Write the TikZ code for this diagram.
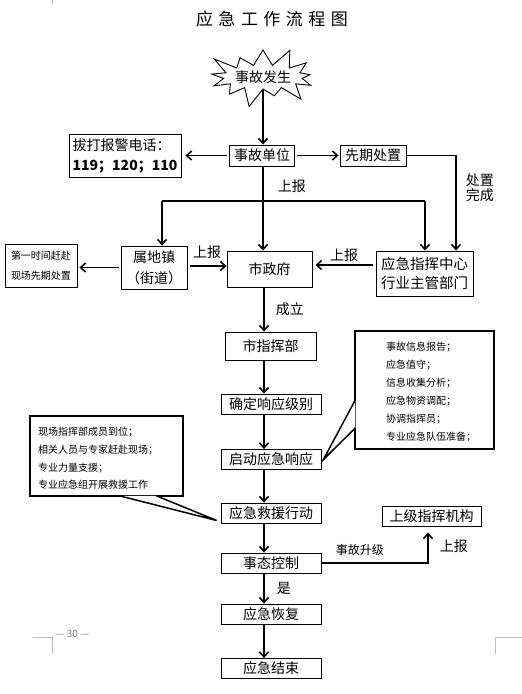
\documentclass[tikz,border=0pt]{standalone}
\usepackage{fontspec}
\setmainfont{Noto Sans CJK SC}
\usepackage{tikz}
\usetikzlibrary{arrows.meta,shapes}

\begin{document}
\begin{tikzpicture}[x=1pt,y=-1pt,
  box/.style={draw,line width=0.9pt,inner sep=0pt,font=\fontsize{14}{16}\selectfont},
  flow/.style={line width=1.6pt,-{Straight Barb[length=5pt,width=9pt]}},
  link/.style={line width=1.6pt},
  lbl/.style={inner sep=1pt,font=\fontsize{14}{15}\selectfont},
  callbox/.style={draw,line width=1.5pt,fill=white,inner sep=0pt},
  callptr/.style={draw,line width=1.5pt,fill=white,line join=miter},
  ctext/.style={inner sep=0pt,align=left},
  pagemk/.style={gray!50,line width=0.6pt}]
\useasboundingbox (0,0) rectangle (522,694);

\node[inner sep=0pt,font=\fontsize{17}{20}\selectfont] (title) at (272,19)
  {应\hspace{5.5pt}急\hspace{5.5pt}工\hspace{5.5pt}作\hspace{5.5pt}流\hspace{5.5pt}程\hspace{5.5pt}图};

\node[starburst,draw,line width=0.9pt,starburst points=13,starburst point height=21pt,
  inner sep=0pt,minimum width=106pt,minimum height=66pt,
  font=\fontsize{14}{16}\selectfont] (fs) at (263,77) {事故发生};

\node[box,minimum width=65pt,minimum height=21pt] (sgdw) at (262,155.5) {事故单位};
\node[box,minimum width=112pt,minimum height=43pt,align=left,font=\fontsize{14}{20}\selectfont] (bj) at (125,155.5)
  {拔打报警电话：\\{\bfseries 119；120；110}};
\node[box,minimum width=66pt,minimum height=21pt] (xq) at (373,155.5) {先期处置};
\node[box,minimum width=66pt,minimum height=43pt,align=center,font=\fontsize{14}{21}\selectfont] (sdz) at (154,267.5)
  {属地镇\\（街道）};
\node[box,minimum width=72pt,minimum height=43pt,align=left,font=\fontsize{10}{20}\selectfont] (dy) at (41,265.5)
  {第一时间赶赴\\现场先期处置};
\node[box,minimum width=85pt,minimum height=36pt] (szf) at (269.5,269) {市政府};
\node[box,minimum width=97pt,minimum height=45pt,align=center,font=\fontsize{14.5}{19}\selectfont] (zx) at (424.5,273.5)
  {应急指挥中心\\行业主管部门};
\node[box,minimum width=91pt,minimum height=28pt] (szh) at (270.5,346) {市指挥部};
\node[box,minimum width=100pt,minimum height=20pt] (qd) at (271,404) {确定响应级别};
\node[box,minimum width=100pt,minimum height=20pt] (qdxy) at (271,459.5) {启动应急响应};
\node[box,minimum width=100pt,minimum height=20pt] (jy) at (271,513) {应急救援行动};
\node[box,minimum width=100pt,minimum height=20pt] (tk) at (271,563) {事态控制};
\node[box,minimum width=100pt,minimum height=20pt] (hf) at (271,614) {应急恢复};
\node[box,minimum width=100pt,minimum height=20pt] (js) at (271,668.5) {应急结束};
\node[box,minimum width=99pt,minimum height=20pt] (sj) at (431.5,516) {上级指挥机构};

\node[callbox,minimum width=139pt,minimum height=118pt] (rc) at (424.5,390) {};
\node[ctext,anchor=west,font=\fontsize{10}{18}\selectfont] (rct) at (386,392)
  {事故信息报告；\\应急值守；\\信息收集分析；\\应急物资调配；\\协调指挥员；\\专业应急队伍准备；};
\node[callbox,minimum width=153pt,minimum height=80pt] (lc) at (106.5,456) {};
\node[ctext,anchor=west,font=\fontsize{10}{17.7}\selectfont] (lct) at (38,458.5)
  {现场指挥部成员到位；\\相关人员与专家赶赴现场；\\专业力量支援；\\专业应急组开展救援工作};
\path[callptr] ([xshift=1pt,yshift=-10pt]rc.west) -- ([xshift=2pt]qdxy.east) -- ([xshift=1pt,yshift=-38pt]rc.west);
\path[callptr] ([xshift=90pt,yshift=1pt]lc.south west) -- ([xshift=-4pt,yshift=3pt]jy.south west) -- ([xshift=127pt,yshift=1pt]lc.south west);

\coordinate (ax) at (264,0);
\coordinate (bl) at (162,201);
\coordinate (br) at (425,201);

\draw[flow] (fs.south) -- (fs.south |- sgdw.north);
\draw[flow,shorten <=2pt,shorten >=4pt] (sgdw.west) -- (bj.east);
\draw[flow,shorten <=2pt,shorten >=1pt] (sgdw.east) -- (xq.west);
\draw[flow] (xq.east) -| ([xshift=31.5pt]zx.north)
  node[lbl,pos=0.67,right=8pt,align=left] {处置\\完成};
\draw[flow] (sgdw.south -| fs.south) -- (fs.south |- szf.north) node[lbl,pos=0.23,right=13pt] {上报};
\draw[link] (bl) -- (br);
\draw[flow] (bl) -- (bl |- sdz.north);
\draw[flow] (br) -- (br |- zx.north);
\draw[flow,shorten <=2pt,shorten >=2pt] (sdz.west) -- (sdz.west -| dy.east);
\draw[flow,shorten <=3pt] ([yshift=1.5pt]sdz.east) -- ([yshift=1.5pt]sdz.east -| szf.west)
  node[lbl,midway,above=6pt] {上报};
\draw[flow,shorten <=3pt,shorten >=3pt] ([yshift=8.5pt]zx.west) -- ([yshift=8.5pt]zx.west -| szf.east)
  node[lbl,midway,above=2pt] {上报};
\draw[flow] (szf.south -| ax) -- (szh.north -| ax) node[lbl,midway,right=10pt] {成立};
\foreach \a/\b in {szh/qd,qd/qdxy,qdxy/jy,jy/tk,hf/js}
  \draw[flow] (\a.south -| ax) -- (\b.north -| ax);
\draw[flow] (tk.south -| ax) -- (hf.north -| ax) node[lbl,midway,right=11pt] {是};
\draw[flow,shorten >=6pt] (tk.east) -| ([xshift=-3.5pt]sj.south)
  node[lbl,pos=0.18,above=6pt,font=\fontsize{12}{14}\selectfont] {事故升级}
  node[lbl,pos=0.73,right=10pt] {上报};

\draw[pagemk] (52,0) -- (52,4);
\draw[pagemk] (33,637) -- (52,637) -- (52,654);
\draw[pagemk] (522,637) -- (495,637) -- (495,654);
\node[inner sep=0pt,text=gray,font=\fontsize{10}{12}\selectfont] (pg) at (72.5,634) {— 30 —};
\end{tikzpicture}
\end{document}
